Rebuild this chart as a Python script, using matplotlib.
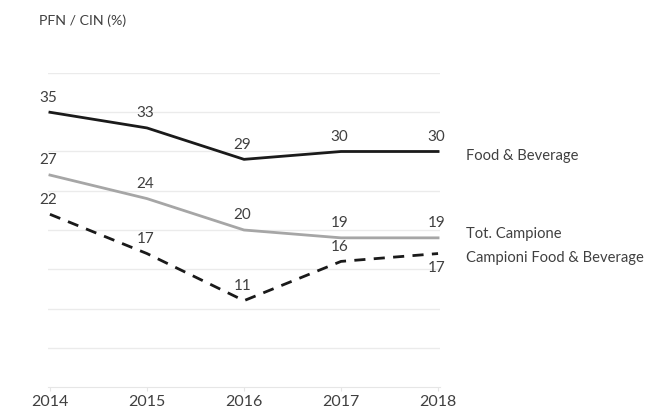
import matplotlib
matplotlib.use("Agg")
import matplotlib.pyplot as plt

years = [2014, 2015, 2016, 2017, 2018]
food_bev = [35, 33, 29, 30, 30]
tot_campione = [27, 24, 20, 19, 19]
campioni_fb = [22, 17, 11, 16, 17]

series_names = ["Food & Beverage", "Tot. Campione", "Campioni Food & Beverage"]

plt.rcParams['font.family'] = ['Lato', 'DejaVu Sans']
txt = '#404040'

fig = plt.figure(figsize=(6.5, 4.11), dpi=100)
ax = fig.add_axes([48/650, 24/411, (440-48)/650, (338-24)/411])

ax.set_ylim(0, 40)
ax.set_xlim(2014 - 0.02, 2018 + 0.02)
for v in range(5, 41, 5):
    ax.axhline(v, color='#ebebeb', lw=1.0, zorder=0)

ax.plot(years, food_bev, color='#1a1a1a', lw=2.0, zorder=3)
ax.plot(years, tot_campione, color='#a6a6a6', lw=2.0, zorder=3)
ax.plot(years, campioni_fb, color='#1a1a1a', lw=2.0, ls=(0, (4, 3)), zorder=3)

def lab(x, y, dy):
    ax.annotate(str(y), (x, y), xytext=(-1, dy), textcoords='offset points',
                ha='center', va='center', fontsize=11, color=txt)

for x, y in zip(years, food_bev):
    lab(x, y, 10.5)
for x, y in zip(years, tot_campione):
    lab(x, y, 10.5)
for i, (x, y) in enumerate(zip(years, campioni_fb)):
    lab(x, y, -10.5 if i == 4 else 10.5)

# series names at the right end of each line
ends = [(food_bev[-1], -3.5), (tot_campione[-1], 3), (campioni_fb[-1], -3)]
for name, (y, dy) in zip(series_names, ends):
    ax.annotate(name, (2018, y), xytext=(20, dy), textcoords='offset points',
                ha='left', va='center', fontsize=10.6, color=txt,
                annotation_clip=False)

ax.set_xticks(years)
ax.set_xticklabels([str(y) for y in years], fontsize=11.5, color=txt)
ax.set_yticks([])
for s in ['top', 'right', 'left']:
    ax.spines[s].set_visible(False)
ax.spines['bottom'].set_color('#e6e6e6')
ax.tick_params(axis='x', length=3, color='#e6e6e6', pad=3)

fig.text(39/650, 1 - 21/411, "PFN / CIN (%)", fontsize=10.2, color=txt,
         ha='left', va='center')

fig.savefig("out.png", dpi=100)
